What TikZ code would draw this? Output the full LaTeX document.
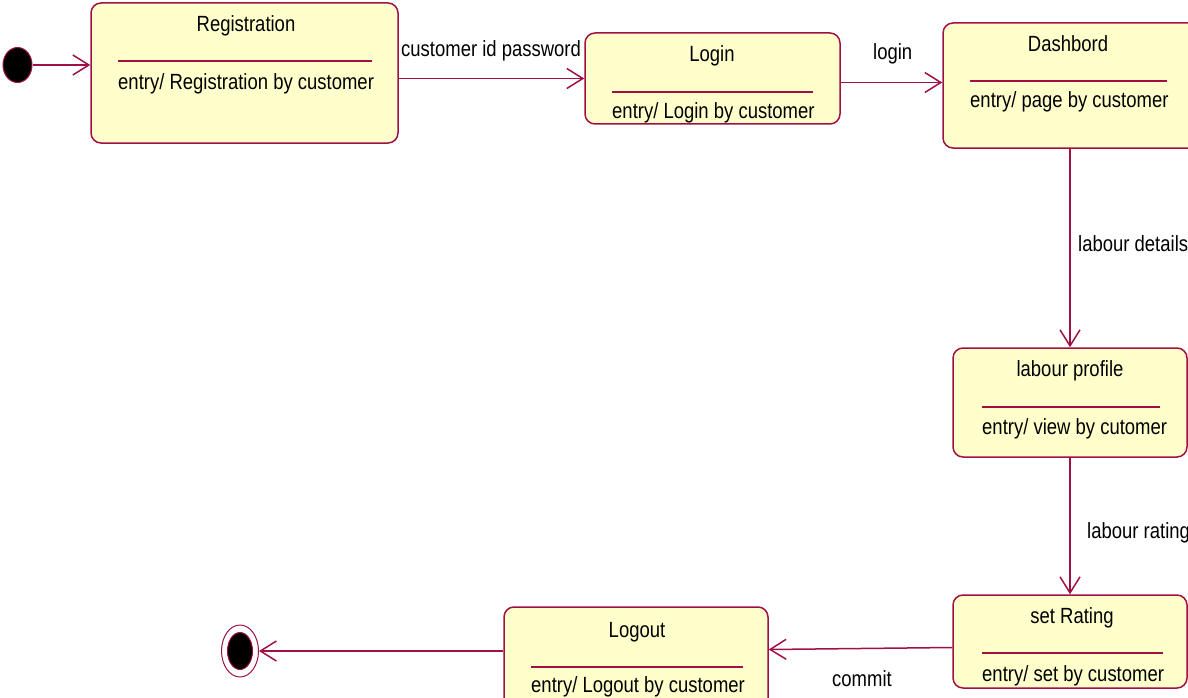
\documentclass[tikz,border=0pt]{standalone}
\usepackage{fontspec}
\setmainfont[FakeStretch=0.84]{Liberation Sans}
\usetikzlibrary{arrows.meta,calc,shapes.geometric}
\definecolor{umlline}{RGB}{160,16,70}
\definecolor{umlfill}{RGB}{255,255,204}
\begin{document}
\begin{tikzpicture}[x=1pt,y=-1pt,
  font=\fontsize{22}{26}\selectfont,
  statebox/.style={draw=umlline,fill=umlfill,line width=1.5pt,rounded corners=10pt,
    inner sep=0pt,minimum width=#1},
  sep/.style={draw=umlline,line width=1.5pt},
  title/.style={anchor=base,inner sep=0pt},
  entrytext/.style={anchor=base west,inner sep=0pt},
  trans/.style={draw=umlline,line width=1.5pt,-{Straight Barb[length=16pt,width=20pt,line width=1.5pt]}},
  tlabel/.style={anchor=base west,inner sep=0pt}]
\useasboundingbox (0,0) rectangle (1188,698);

% states
\node[statebox=307pt,minimum height=140pt] (reg)    at (244.5,73)  {};
\node[statebox=255pt,minimum height=91pt]  (login)  at (712.5,78.5) {};
\node[statebox=257pt,minimum height=125pt] (dash)   at (1071.5,85.5) {};
\node[statebox=234pt,minimum height=109pt] (prof)   at (1070,402.5) {};
\node[statebox=234pt,minimum height=93pt]  (rate)   at (1070,641.5) {};
\node[statebox=264pt,minimum height=103pt] (logout) at (636,658.5) {};

% state names, compartment lines and entry actions
\node[title] (regT) at (246,32) {Registration};
\draw[sep] (118,61) -- (372,61);
\node[entrytext] (regE) at (118,90) {entry/ Registration by customer};

\node[title] (loginT) at (712,62) {Login};
\draw[sep] (612,92) -- (813,92);
\node[entrytext] (loginE) at (612,119) {entry/ Login by customer};

\node[title] (dashT) at (1068,52) {Dashbord};
\draw[sep] (970,81) -- (1167,81);
\node[entrytext] (dashE) at (970,108) {entry/ page by customer};

\node[title] (profT) at (1070,376) {labour profile};
\draw[sep] (982,407) -- (1160,407);
\node[entrytext] (profE) at (982,434) {entry/ view by cutomer};

\node[title] (rateT) at (1072,623) {set Rating};
\draw[sep] (982,653) -- (1163,653);
\node[entrytext] (rateE) at (982,681) {entry/ set by customer};

\node[title] (logoutT) at (637,637) {Logout};
\draw[sep] (531,667) -- (743,667);
\node[entrytext] (logoutE) at (531,692) {entry/ Logout by customer};

% initial and final pseudo-states
\node[draw=umlline,fill=black,line width=1pt,ellipse,minimum width=29pt,minimum height=35pt,inner sep=0pt] (init) at (17.5,65) {};
\node[draw=umlline,line width=1pt,ellipse,minimum width=37pt,minimum height=52pt,inner sep=0pt] (fin) at (240,651) {};
\node[draw=umlline,fill=black,line width=1pt,ellipse,minimum width=25pt,minimum height=37pt,inner sep=0pt] (finIn) at (240,651) {};

% transitions
\draw[trans] (init.east) -- (reg.west |- init.east);
\draw[trans] (reg.east |- login.west) -- (login.west);
\draw[trans] ($(login.east)+(0,4)$) -- ($(dash.west)+(0,-3)$);
\draw[trans] (dash.south -| prof.north) -- (prof.north);
\draw[trans] (prof.south) -- (rate.north);
\draw[trans] ($(rate.west)+(0,6)$) -- ($(logout.east)+(0,-9)$);
\draw[trans] (logout.west |- fin.east) -- (fin.east);

% transition labels
\node[tlabel] (l1) at (401,57)  {customer id password};
\node[tlabel] (l2) at (873,60)  {login};
\node[tlabel] (l3) at (1078,251) {labour details};
\node[tlabel] (l4) at (1087,538) {labour rating};
\node[tlabel] (l5) at (832,686) {commit};
\end{tikzpicture}
\end{document}
